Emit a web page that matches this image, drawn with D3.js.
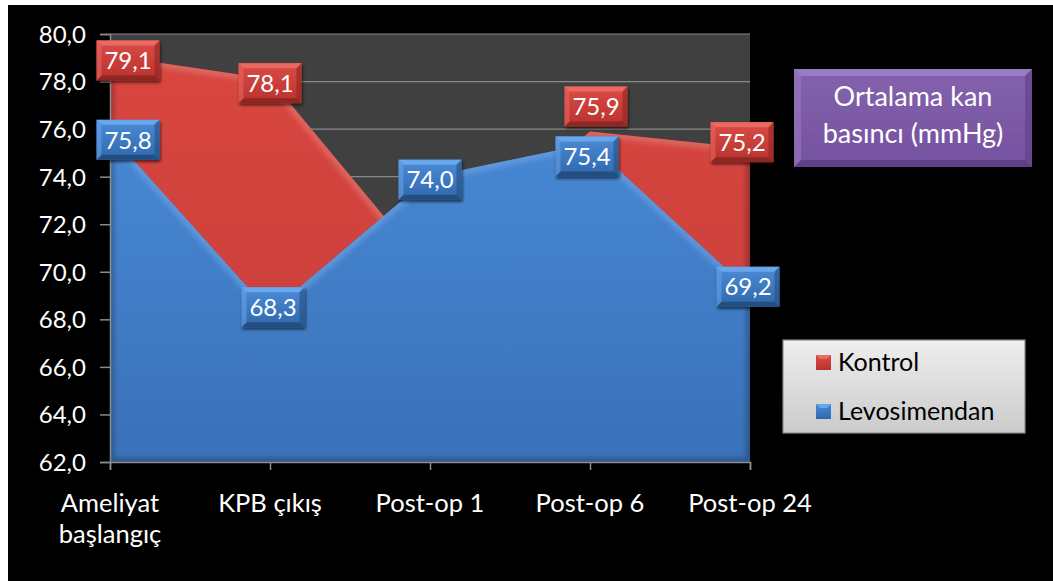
<!DOCTYPE html>
<html>
<head>
<meta charset="utf-8">
<script src="https://cdn.jsdelivr.net/npm/d3@7"></script>
<style>
  html, body { margin: 0; padding: 0; background: #ffffff; }
  svg { display: block; }
  text { font-family: Lato, "Open Sans", sans-serif; }
</style>
</head>
<body>
<svg id="chart" width="1053" height="581"></svg>
<script>
// Mean arterial pressure (mmHg) by time point, two groups
const categories = ["Ameliyat başlangıç", "KPB çıkış", "Post-op 1", "Post-op 6", "Post-op 24"];
const categoryLines = [["Ameliyat", "başlangıç"], ["KPB çıkış"], ["Post-op 1"], ["Post-op 6"], ["Post-op 24"]];
const seriesNames = ["Kontrol", "Levosimendan"];
const kontrol = [79.1, 78.1, 70.0, 75.9, 75.2];
const levosimendan = [75.8, 68.3, 74.0, 75.4, 69.2];
const kontrolLabelShown = [true, true, false, true, true];
const levosimendanLabelShown = [true, true, true, true, true];
const yTicks = [62, 64, 66, 68, 70, 72, 74, 76, 78, 80];
const title = ["Ortalama kan", "basıncı (mmHg)"];

// label nudges (px) so neighbouring boxes do not collide
const kontrolNudge = [[18, 5], [0, 4], [0, 0], [6, -25], [-8, -6]];
const levoNudge = [[18, 6], [3, -5], [0, 3], [-3, 13], [-2, -4]];

const svg = d3.select("#chart");
const W = 1053, H = 581;

// page frame: black chart area with thin white margin at top/left
svg.append("rect").attr("width", W).attr("height", H).attr("fill", "#ffffff");
svg.append("rect").attr("x", 8).attr("y", 5).attr("width", W - 8).attr("height", H - 5).attr("fill", "#000000");

const plot = { left: 110, right: 750, top: 34, bottom: 462 };

const x = d3.scalePoint().domain(categories).range([plot.left, plot.right]);
const y = d3.scaleLinear().domain([62, 80]).range([plot.bottom, plot.top]);

const defs = svg.append("defs");

function vGrad(id, stops) {
  const g = defs.append("linearGradient").attr("id", id)
    .attr("x1", 0).attr("y1", 0).attr("x2", 0).attr("y2", 1);
  stops.forEach(s => g.append("stop").attr("offset", s[0]).attr("stop-color", s[1]));
}
vGrad("redFill", [[0, "#d9463f"], [1, "#c53d3a"]]);
vGrad("blueFill", [[0, "#4788d4"], [1, "#3a71b8"]]);
vGrad("legendFill", [[0, "#eeeeee"], [1, "#cbcbcb"]]);
vGrad("purpleFill", [[0, "#8462ad"], [1, "#7552a0"]]);
vGrad("redBox", [[0, "#dc4b45"], [1, "#b8322e"]]);
vGrad("blueBox", [[0, "#4b8cd8"], [1, "#2f67ad"]]);

const shadow = defs.append("filter").attr("id", "shadow")
  .attr("x", "-20%").attr("y", "-20%").attr("width", "140%").attr("height", "150%");
shadow.append("feGaussianBlur").attr("in", "SourceAlpha").attr("stdDeviation", 1.5);
shadow.append("feOffset").attr("dx", 1).attr("dy", 2).attr("result", "o");
shadow.append("feComponentTransfer").append("feFuncA").attr("type", "linear").attr("slope", 0.6);
const merge = shadow.append("feMerge");
merge.append("feMergeNode");
merge.append("feMergeNode").attr("in", "SourceGraphic");

const soft = defs.append("filter").attr("id", "soft");
soft.append("feGaussianBlur").attr("stdDeviation", 2);

// plot background + gridlines
svg.append("rect").attr("x", plot.left).attr("y", plot.top)
  .attr("width", plot.right - plot.left).attr("height", plot.bottom - plot.top)
  .attr("fill", "#404040");

svg.append("g").selectAll("line").data(yTicks.filter(t => t !== 62)).join("line")
  .attr("x1", plot.left).attr("x2", plot.right)
  .attr("y1", d => y(d)).attr("y2", d => y(d))
  .attr("stroke", "#8a8a8a").attr("stroke-width", 1.2);

// areas
const area = d3.area().x((d, i) => x(categories[i])).y0(y(62)).y1(d => y(d));
const line = d3.line().x((d, i) => x(categories[i])).y(d => y(d));

function drawArea(values, fillId, id, hi) {
  const g = svg.append("g");
  const cp = defs.append("clipPath").attr("id", id);
  cp.append("path").attr("d", area(values));
  g.append("path").attr("d", area(values)).attr("fill", `url(#${fillId})`);
  const inner = g.append("g").attr("clip-path", `url(#${id})`);
  inner.append("path").attr("d", area(values)).attr("fill", "none")
    .attr("stroke", "rgba(0,0,0,0.22)").attr("stroke-width", 9).attr("filter", "url(#soft)");
  inner.append("path").attr("d", line(values)).attr("fill", "none")
    .attr("stroke", hi).attr("stroke-width", 11).attr("stroke-linejoin", "round")
    .attr("filter", "url(#soft)");
}
drawArea(kontrol, "redFill", "clipRed", "rgba(255,130,120,0.6)");
drawArea(levosimendan, "blueFill", "clipBlue", "rgba(120,180,255,0.6)");

// axes
const axisColor = "#8c8c8c";
const yAxis = svg.append("g").attr("transform", `translate(${plot.left},0)`)
  .call(d3.axisLeft(y).tickValues(yTicks).tickSize(10).tickPadding(14)
    .tickFormat(d => d3.format(".1f")(d).replace(".", ",")));
yAxis.select(".domain").attr("stroke", axisColor).attr("stroke-width", 1.5);
yAxis.selectAll(".tick line").attr("stroke", axisColor).attr("stroke-width", 1.5);
yAxis.selectAll(".tick text").attr("fill", "#ffffff").attr("font-size", 24)
  .attr("font-family", "Lato, sans-serif").attr("dy", "0.35em");

const xAxis = svg.append("g").attr("transform", `translate(0,${plot.bottom})`)
  .call(d3.axisBottom(x).tickSize(8).tickFormat(""));
xAxis.select(".domain").attr("stroke", axisColor).attr("stroke-width", 1.5);
xAxis.selectAll(".tick line").attr("stroke", axisColor).attr("stroke-width", 1.5);

const xl = svg.append("g");
categories.forEach((c, i) => {
  const t = xl.append("text").attr("x", x(c)).attr("y", 512)
    .attr("text-anchor", "middle").attr("fill", "#ffffff").attr("font-size", 25.5);
  categoryLines[i].forEach((ln, j) => {
    t.append("tspan").attr("x", x(c)).attr("dy", j === 0 ? 0 : 31).text(ln);
  });
});

// bevelled box helper
function bevelBox(g, cx, cy, w, h, fill, light, dark, b) {
  const x0 = cx - w / 2, y0 = cy - h / 2, x1 = cx + w / 2, y1 = cy + h / 2;
  const box = g.append("g").attr("filter", "url(#shadow)");
  box.append("rect").attr("x", x0).attr("y", y0).attr("width", w).attr("height", h).attr("fill", fill);
  const poly = pts => box.append("polygon").attr("points", pts.map(p => p.join(",")).join(" "));
  poly([[x0, y0], [x1, y0], [x1 - b, y0 + b], [x0 + b, y0 + b]]).attr("fill", light);
  poly([[x0, y1], [x1, y1], [x1 - b, y1 - b], [x0 + b, y1 - b]]).attr("fill", dark);
  poly([[x0, y0], [x0 + b, y0 + b], [x0 + b, y1 - b], [x0, y1]]).attr("fill", light).attr("opacity", 0.55);
  poly([[x1, y0], [x1 - b, y0 + b], [x1 - b, y1 - b], [x1, y1]]).attr("fill", dark).attr("opacity", 0.6);
  return box;
}

// data labels
function drawLabels(values, shown, nudge, fillId, light, dark) {
  const g = svg.append("g");
  values.forEach((v, i) => {
    if (!shown[i]) return;
    const cx = x(categories[i]) + nudge[i][0];
    const cy = y(v) + nudge[i][1];
    bevelBox(g, cx, cy, 63, 40, `url(#${fillId})`, light, dark, 5);
    g.append("text").attr("x", cx).attr("y", cy).attr("dy", "0.36em")
      .attr("text-anchor", "middle").attr("fill", "#ffffff").attr("font-size", 24)
      .text(d3.format(".1f")(v).replace(".", ","));
  });
}
drawLabels(kontrol, kontrolLabelShown, kontrolNudge, "redBox", "#ea6a64", "#8e2623");
drawLabels(levosimendan, levosimendanLabelShown, levoNudge, "blueBox", "#6aa6ec", "#24507f");

// title box
const tg = svg.append("g");
bevelBox(tg, 913, 118, 238, 98, "url(#purpleFill)", "#9a7bc2", "#5d3f85", 7);
title.forEach((t, i) => {
  tg.append("text").attr("x", 913).attr("y", 106 + i * 37)
    .attr("text-anchor", "middle").attr("fill", "#ffffff").attr("font-size", 27).text(t);
});

// legend
const lg = svg.append("g");
lg.append("rect").attr("x", 783).attr("y", 340).attr("width", 242).attr("height", 93)
  .attr("fill", "url(#legendFill)").attr("stroke", "#8a8a8a").attr("stroke-width", 1.2);
const legendColors = [["url(#redBox)", "#ea6a64", "#8e2623"], ["url(#blueBox)", "#6aa6ec", "#24507f"]];
seriesNames.forEach((s, i) => {
  const cy = 362 + i * 49;
  const mg = lg.append("g");
  mg.append("rect").attr("x", 816).attr("y", cy - 7).attr("width", 15).attr("height", 15)
    .attr("fill", legendColors[i][0]);
  mg.append("polygon").attr("points", `816,${cy - 7} 831,${cy - 7} 827,${cy - 3} 820,${cy - 3}`)
    .attr("fill", legendColors[i][1]);
  lg.append("text").attr("x", 838).attr("y", cy).attr("dy", "0.36em")
    .attr("fill", "#000000").attr("font-size", 25).text(s);
});
</script>
</body>
</html>
